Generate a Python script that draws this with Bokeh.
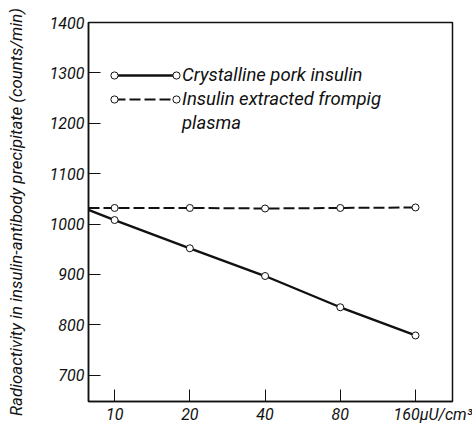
from bokeh.plotting import figure
from bokeh.models import (FixedTicker, Legend, LegendItem, Range1d)
from bokeh.embed import file_html
from bokeh.resources import INLINE

# ---- data ----
doses = [10, 20, 40, 80, 160]                 # µU/cm3 (log axis)
crystalline = [1008, 952, 897, 835, 779]      # counts/min
pig_plasma = [1032, 1032, 1031, 1032, 1033]   # counts/min
edge_crystalline = 1028   # where the solid line meets the left axis
edge_plasma = 1032        # where the dashed line meets the left axis
y_ticks = [700, 800, 900, 1000, 1100, 1200, 1300, 1400]
x_tick_labels = ["10", "20", "40", "80", "160"]
unit_text = "µU/cm³"
label_solid = "Crystalline pork insulin"
label_dashed = "Insulin extracted frompig"
label_dashed2 = "plasma"
y_title = "Radioactivity in insulin-antibody precipitate (counts/min)"

FONT = "Roboto"
INK = "#111111"

x_lo, x_hi = 7.86, 225
y_lo, y_hi = 648, 1400

p = figure(width=472, height=427, x_axis_type="log",
           x_range=Range1d(x_lo, x_hi), y_range=Range1d(y_lo, y_hi),
           output_backend="svg", toolbar_location=None,
           min_border_left=88, min_border_right=20,
           min_border_top=22, min_border_bottom=26)
p.grid.visible = False
p.outline_line_color = INK
p.outline_line_width = 1.5
p.background_fill_color = "white"
p.border_fill_color = "white"

solid = p.line([x_lo] + doses, [edge_crystalline] + crystalline,
               line_color=INK, line_width=2.4)
dashed = p.line([x_lo] + doses, [edge_plasma] + pig_plasma,
                line_color=INK, line_width=2, line_dash="11 4")
pts1 = p.scatter(doses, crystalline, marker="circle", size=7,
                 fill_color="white", line_color=INK, line_width=1)
pts2 = p.scatter(doses, pig_plasma, marker="circle", size=7,
                 fill_color="white", line_color=INK, line_width=1)
blank = p.line([], [], line_alpha=0)

# axes
tick_text = list(x_tick_labels)
# last tick carries the unit; leading no-break spaces keep "160" on its tick
tick_text[-1] = "\u00a0" * 13 + tick_text[-1] + unit_text
xa = p.xaxis[0]
xa.ticker = FixedTicker(ticks=doses, minor_ticks=[])
xa.major_label_overrides = {d: t for d, t in zip(doses, tick_text)}
ya = p.yaxis[0]
ya.ticker = FixedTicker(ticks=y_ticks, minor_ticks=[])
for ax in (xa, ya):
    ax.axis_line_color = INK
    ax.axis_line_width = 1.5
    ax.major_tick_line_color = INK
    ax.major_tick_line_width = 1
    ax.major_tick_in = 12
    ax.major_tick_out = 0
    ax.minor_tick_line_color = None
    ax.major_label_text_font = FONT
    ax.major_label_text_font_style = "italic"
    ax.major_label_text_font_size = "16px"
    ax.major_label_text_color = INK
xa.major_label_standoff = 3
ya.major_label_standoff = 4
ya.axis_label = y_title
ya.axis_label_text_font = FONT
ya.axis_label_text_font_style = "italic"
ya.axis_label_text_font_size = "16.8px"
ya.axis_label_text_color = INK
ya.axis_label_standoff = 21

# legend: lines + text (all legends share a 24px row pitch)
common = dict(margin=0, padding=0, spacing=0, glyph_height=24,
              label_height=24, background_fill_alpha=0,
              border_line_alpha=0, label_text_font=FONT,
              label_text_font_style="italic", label_text_font_size="18.5px",
              label_text_color=INK)
main_leg = Legend(items=[LegendItem(label=label_solid, renderers=[solid]),
                         LegendItem(label=label_dashed, renderers=[dashed]),
                         LegendItem(label=label_dashed2, renderers=[blank])],
                  location=(26, 266), glyph_width=62, label_standoff=6,
                  **common)
p.add_layout(main_leg)
# circles at both ends of the legend samples
for lx in (17, 79):
    leg = Legend(items=[LegendItem(label=" ", renderers=[pts1]),
                        LegendItem(label=" ", renderers=[pts2])],
                 location=(lx, 290), glyph_width=18, label_standoff=0,
                 **common)
    p.add_layout(leg)

open("out.html", "w").write(file_html(p, INLINE))
